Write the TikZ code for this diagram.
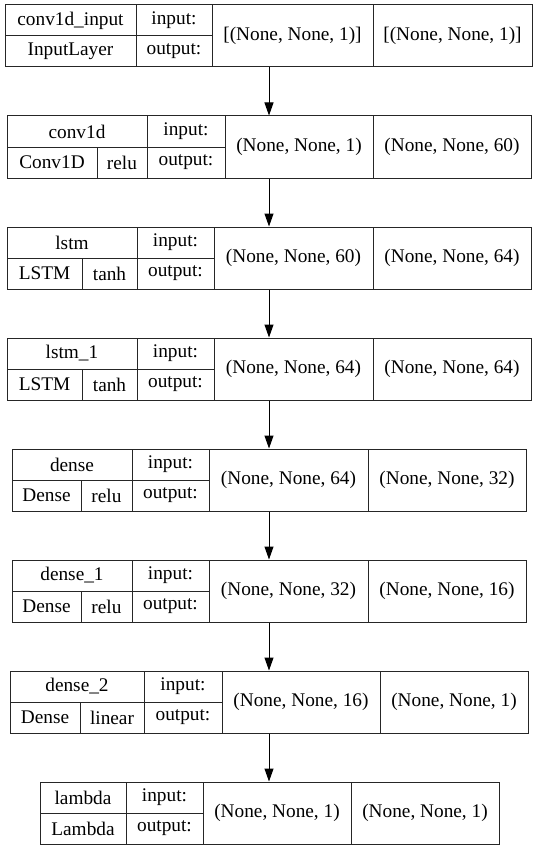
\documentclass[tikz,border=0pt]{standalone}
\usepackage{fontspec}
\setmainfont{Liberation Serif}
\newfontfamily\cellfont{Liberation Serif}
\usetikzlibrary{arrows.meta}
\tikzset{
  cellline/.style={line width=1pt, draw=black!85},
  laybox/.style={draw=black!85, line width=1pt, inner sep=0pt, rectangle},
  celltxt/.style={inner sep=0pt, font=\cellfont\fontsize{19.3}{23}\selectfont},
  flow/.style={line width=1pt, -{Triangle[length=13pt,width=9pt]}}
}
% #1 name, #2 top, #3 left, #4 col1 end, #5 col2 end, #6 col3 end, #7 right, #8 top label, #9 bottom-left label
% uses \act (activation, empty for none), \spl (split x), \ins, \outs
\newcommand\lay[9]{%
  \node[laybox, minimum width={(#7-#3)*1pt}, minimum height=62pt] (#1) at ({(#3+#7)/2},{#2+31}) {};
  \draw[cellline] (#4,#2) -- (#4,#2+62);
  \draw[cellline] (#5,#2) -- (#5,#2+62);
  \draw[cellline] (#6,#2) -- (#6,#2+62);
  \draw[cellline] (#3,#2+31) -- (#5,#2+31);
  \node[celltxt] (#1-name) at ({(#3+#4)/2},{#2+15.5}) {#8};
  \node[celltxt] (#1-inlab) at ({(#4+#5)/2},{#2+15.5}) {input:};
  \node[celltxt] (#1-outlab) at ({(#4+#5)/2},{#2+46.5}) {output:};
  \node[celltxt] (#1-in) at ({(#5+#6)/2},{#2+31}) {\ins};
  \node[celltxt] (#1-out) at ({(#6+#7)/2},{#2+31}) {\outs};
  \ifx\act\empty
    \node[celltxt] (#1-type) at ({(#3+#4)/2},{#2+46.5}) {#9};
  \else
    \draw[cellline] (\spl,#2+31) -- (\spl,#2+62);
    \node[celltxt] (#1-type) at ({(#3+\spl)/2},{#2+46.5}) {#9};
    \node[celltxt] (#1-act) at ({(\spl+#4)/2},{#2+46.5}) {\act};
  \fi
}
\begin{document}
\begin{tikzpicture}[x=1pt,y=-1pt]
\useasboundingbox (0,0) rectangle (539,848);
\fill[white] (0,0) rectangle (539,848);

\def\act{}\def\spl{0}\def\ins{[(None, None, 1)]}\def\outs{[(None, None, 1)]}
\lay{L1}{5}{5}{136}{212}{373}{532}{conv1d\_input}{InputLayer}

\def\act{relu}\def\spl{97}\def\ins{(None, None, 1)}\def\outs{(None, None, 60)}
\lay{L2}{116}{7}{147}{225}{373}{531}{conv1d}{Conv1D}

\def\act{tanh}\def\spl{82}\def\ins{(None, None, 60)}\def\outs{(None, None, 64)}
\lay{L3}{227}{7}{137}{214}{373}{531}{lstm}{LSTM}

\def\act{tanh}\def\spl{82}\def\ins{(None, None, 64)}\def\outs{(None, None, 64)}
\lay{L4}{338}{7}{137}{214}{373}{531}{lstm\_1}{LSTM}

\def\act{relu}\def\spl{81}\def\ins{(None, None, 64)}\def\outs{(None, None, 32)}
\lay{L5}{449}{12}{132}{209}{368}{526}{dense}{Dense}

\def\act{relu}\def\spl{81}\def\ins{(None, None, 32)}\def\outs{(None, None, 16)}
\lay{L6}{560}{12}{132}{209}{368}{526}{dense\_1}{Dense}

\def\act{linear}\def\spl{80}\def\ins{(None, None, 16)}\def\outs{(None, None, 1)}
\lay{L7}{671}{10}{144}{222}{380}{528}{dense\_2}{Dense}

\def\act{}\def\spl{0}\def\ins{(None, None, 1)}\def\outs{(None, None, 1)}
\lay{L8}{782}{40}{126}{203}{351}{499}{lambda}{Lambda}

\foreach \a/\b in {L1/L2,L2/L3,L3/L4,L4/L5,L5/L6,L6/L7,L7/L8}
  \draw[flow] (\a.south -| 269,0) -- (\b.north -| 269,0);
\end{tikzpicture}
\end{document}
